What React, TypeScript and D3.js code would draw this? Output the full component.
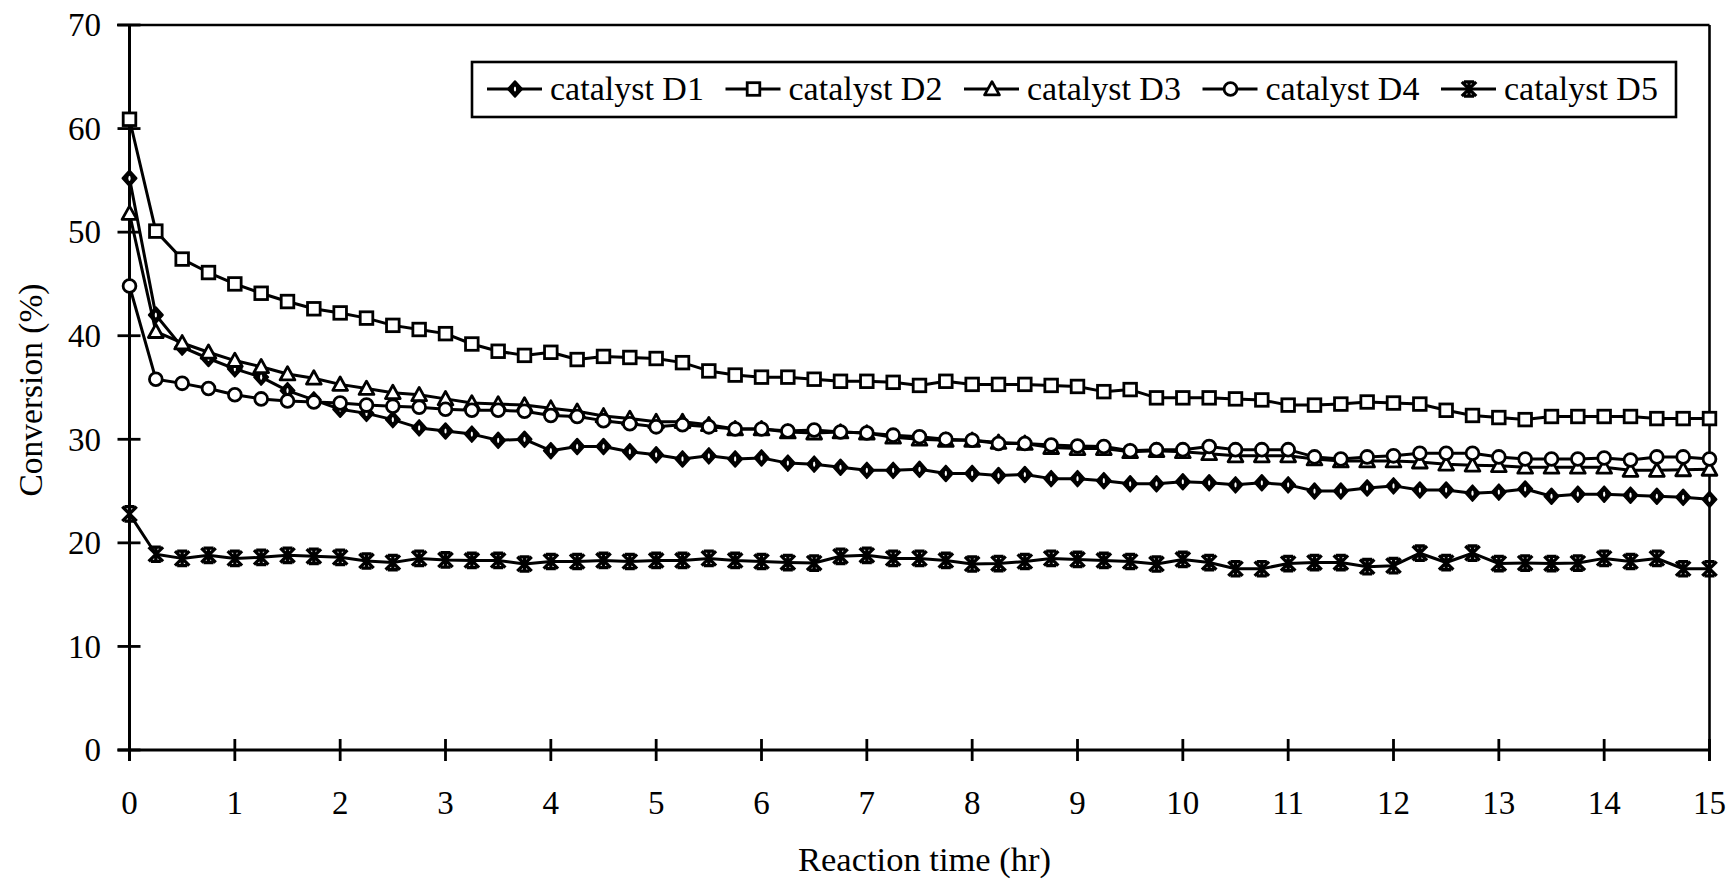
import React from "react";
import * as d3 from "d3";

const times = [0, 0.25, 0.5, 0.75, 1, 1.25, 1.5, 1.75, 2, 2.25, 2.5, 2.75, 3, 3.25, 3.5, 3.75, 4, 4.25, 4.5, 4.75, 5, 5.25, 5.5, 5.75, 6, 6.25, 6.5, 6.75, 7, 7.25, 7.5, 7.75, 8, 8.25, 8.5, 8.75, 9, 9.25, 9.5, 9.75, 10, 10.25, 10.5, 10.75, 11, 11.25, 11.5, 11.75, 12, 12.25, 12.5, 12.75, 13, 13.25, 13.5, 13.75, 14, 14.25, 14.5, 14.75, 15];

const d1 = [55.2, 42.0, 38.9, 37.8, 36.8, 36.0, 34.7, 33.8, 32.9, 32.5, 31.9, 31.1, 30.8, 30.5, 29.9, 30.0, 28.9, 29.3, 29.3, 28.8, 28.5, 28.1, 28.4, 28.1, 28.2, 27.7, 27.6, 27.3, 27.0, 27.0, 27.1, 26.7, 26.7, 26.5, 26.6, 26.2, 26.2, 26.0, 25.7, 25.7, 25.9, 25.8, 25.6, 25.8, 25.6, 25.0, 25.0, 25.3, 25.5, 25.1, 25.1, 24.8, 24.9, 25.2, 24.5, 24.7, 24.7, 24.6, 24.5, 24.4, 24.2];
const d2 = [60.9, 50.1, 47.4, 46.1, 45.0, 44.1, 43.3, 42.6, 42.2, 41.7, 41.0, 40.6, 40.2, 39.2, 38.5, 38.1, 38.4, 37.7, 38.0, 37.9, 37.8, 37.4, 36.6, 36.2, 36.0, 36.0, 35.8, 35.6, 35.6, 35.5, 35.2, 35.6, 35.3, 35.3, 35.3, 35.2, 35.1, 34.6, 34.8, 34.0, 34.0, 34.0, 33.9, 33.8, 33.3, 33.3, 33.4, 33.6, 33.5, 33.4, 32.8, 32.3, 32.1, 31.9, 32.2, 32.2, 32.2, 32.2, 32.0, 32.0, 32.0];
const d3s = [51.8, 40.4, 39.3, 38.4, 37.6, 37.0, 36.3, 35.9, 35.3, 34.9, 34.5, 34.3, 33.9, 33.5, 33.4, 33.3, 33.0, 32.7, 32.25, 32.0, 31.7, 31.7, 31.4, 31.0, 31.0, 30.7, 30.6, 30.7, 30.6, 30.2, 30.0, 29.9, 29.9, 29.7, 29.6, 29.2, 29.1, 29.1, 28.8, 28.9, 28.8, 28.6, 28.4, 28.4, 28.4, 28.1, 27.9, 27.9, 27.9, 27.8, 27.6, 27.5, 27.45, 27.3, 27.3, 27.3, 27.3, 27.0, 27.0, 27.05, 27.1];
const d4 = [44.8, 35.8, 35.4, 34.9, 34.3, 33.9, 33.7, 33.6, 33.5, 33.3, 33.2, 33.1, 32.9, 32.8, 32.8, 32.7, 32.3, 32.2, 31.8, 31.5, 31.2, 31.4, 31.2, 31.0, 31.0, 30.8, 30.9, 30.7, 30.6, 30.4, 30.25, 30.0, 29.9, 29.6, 29.6, 29.45, 29.35, 29.3, 28.9, 29.0, 29.0, 29.3, 29.0, 29.0, 29.0, 28.3, 28.1, 28.3, 28.4, 28.65, 28.65, 28.65, 28.3, 28.1, 28.1, 28.1, 28.2, 28.0, 28.3, 28.3, 28.1];
const d5 = [22.8, 18.9, 18.5, 18.8, 18.5, 18.6, 18.8, 18.7, 18.6, 18.25, 18.1, 18.5, 18.35, 18.3, 18.3, 17.96, 18.2, 18.2, 18.3, 18.2, 18.3, 18.3, 18.5, 18.3, 18.2, 18.1, 18.05, 18.7, 18.8, 18.5, 18.5, 18.3, 17.96, 18.0, 18.2, 18.5, 18.4, 18.3, 18.2, 17.96, 18.4, 18.1, 17.5, 17.5, 18.0, 18.1, 18.1, 17.7, 17.8, 19.0, 18.1, 19.0, 18.0, 18.05, 18.0, 18.05, 18.5, 18.2, 18.5, 17.5, 17.5];

const seriesNames = ["catalyst D1", "catalyst D2", "catalyst D3", "catalyst D4", "catalyst D5"];
const seriesMarkers = ["diamond", "square", "triangle", "circle", "star"];
const seriesValues = [d1, d2, d3s, d4, d5];

const xTicks = [0, 1, 2, 3, 4, 5, 6, 7, 8, 9, 10, 11, 12, 13, 14, 15];
const yTicks = [0, 10, 20, 30, 40, 50, 60, 70];

const W = 1733;
const H = 881;
const FONT = "'Liberation Serif', 'Times New Roman', serif";

const x = d3.scaleLinear().domain([0, 15]).range([129.5, 1709.5]);
const y = d3.scaleLinear().domain([0, 70]).range([750, 25]);

function Marker({ type, cx, cy }: { type: string; cx: number; cy: number }) {
  const sw = 2.8;
  if (type === "diamond") {
    const ry = 7.8;
    const rx = 7;
    return (
      <g>
        <path
          d={`M${cx},${cy - ry}L${cx + rx},${cy}L${cx},${cy + ry}L${cx - rx},${cy}Z`}
          fill="#000"
          stroke="#000"
          strokeWidth={2}
          strokeLinejoin="round"
        />
        <ellipse cx={cx} cy={cy} rx={1.1} ry={2.6} fill="#fff" />
      </g>
    );
  }
  if (type === "square") {
    const s = 6.3;
    return <rect x={cx - s} y={cy - s} width={2 * s} height={2 * s} fill="#fff" stroke="#000" strokeWidth={sw} />;
  }
  if (type === "triangle") {
    const r = 7.4;
    return (
      <path
        d={`M${cx},${cy - r}L${cx + r},${cy + r * 0.8}L${cx - r},${cy + r * 0.8}Z`}
        fill="#fff"
        stroke="#000"
        strokeWidth={sw}
        strokeLinejoin="round"
      />
    );
  }
  if (type === "circle") {
    return <circle cx={cx} cy={cy} r={6.4} fill="#fff" stroke="#000" strokeWidth={sw} />;
  }
  const r = 7.2;
  return (
    <path
      d={`M${cx - r},${cy - r}L${cx + r},${cy + r}M${cx - r},${cy + r}L${cx + r},${cy - r}M${cx},${cy - r - 1}L${cx},${cy + r + 1}M${cx - 5},${cy - r}L${cx + 5},${cy - r}M${cx - 5},${cy + r}L${cx + 5},${cy + r}`}
      fill="none"
      stroke="#000"
      strokeWidth={3.3}
    />
  );
}

export default function App() {
  const line = d3
    .line<number>()
    .x((_, i) => x(times[i]))
    .y((v) => y(v));

  const legendLeft = 472;
  const legendTop = 62;
  const legendRight = 1676;
  const legendBottom = 117;
  const legendPitch = 238.5;
  const legendLineY = 89;

  return (
    <svg
      width={W}
      height={H}
      viewBox={`0 0 ${W} ${H}`}
      style={{ position: "absolute", left: 0, top: 0, background: "#fff" }}
      fontFamily={FONT}
    >
      <rect x={0} y={0} width={W} height={H} fill="#fff" />
      {/* frame */}
      <line x1={117} x2={x(15)} y1={y(70)} y2={y(70)} stroke="#000" strokeWidth={2.6} />
      <line x1={x(15)} x2={x(15)} y1={y(70)} y2={y(0) + 11} stroke="#000" strokeWidth={2.6} />
      {/* y axis */}
      <line x1={x(0)} x2={x(0)} y1={y(70)} y2={y(0) + 11} stroke="#000" strokeWidth={3} />
      {yTicks.map((t) => (
        <g key={"yt" + t}>
          <line x1={x(0) - 12} x2={x(0) + 11} y1={y(t)} y2={y(t)} stroke="#000" strokeWidth={2.8} />
          <text x={101} y={y(t)} dy="0.34em" textAnchor="end" fontSize={33} fill="#000">
            {t}
          </text>
        </g>
      ))}
      {/* x axis */}
      <line x1={x(0) - 12} x2={x(15)} y1={y(0)} y2={y(0)} stroke="#000" strokeWidth={3} />
      {xTicks.map((t) => (
        <g key={"xt" + t}>
          <line x1={x(t)} x2={x(t)} y1={y(0) - 11} y2={y(0) + 11} stroke="#000" strokeWidth={2.8} />
          <text x={x(t)} y={814} textAnchor="middle" fontSize={33} fill="#000">
            {t}
          </text>
        </g>
      ))}
      <text x={(x(0) + x(15)) / 2 + 5} y={871} textAnchor="middle" fontSize={34.5} fill="#000">
        Reaction time (hr)
      </text>
      <text
        transform={`translate(42, ${390}) rotate(-90)`}
        textAnchor="middle"
        fontSize={33.5}
        fill="#000"
      >
        Conversion (%)
      </text>

      {/* series */}
      {seriesValues.map((vals, si) => (
        <g key={"s" + si}>
          <path d={line(vals) || ""} fill="none" stroke="#000" strokeWidth={3} strokeLinejoin="round" />
          {vals.map((v, i) => (
            <Marker key={i} type={seriesMarkers[si]} cx={x(times[i])} cy={y(v)} />
          ))}
        </g>
      ))}

      {/* legend */}
      <rect
        x={legendLeft}
        y={legendTop}
        width={legendRight - legendLeft}
        height={legendBottom - legendTop}
        fill="#fff"
        stroke="#000"
        strokeWidth={2.6}
      />
      {seriesNames.map((name, i) => {
        const lx = legendLeft + 15 + i * legendPitch;
        return (
          <g key={"lg" + i}>
            <line x1={lx} x2={lx + 55} y1={legendLineY} y2={legendLineY} stroke="#000" strokeWidth={3} />
            <Marker type={seriesMarkers[i]} cx={lx + 28} cy={legendLineY} />
            <text x={lx + 63} y={99.5} fontSize={34} fill="#000">
              {name}
            </text>
          </g>
        );
      })}
    </svg>
  );
}
